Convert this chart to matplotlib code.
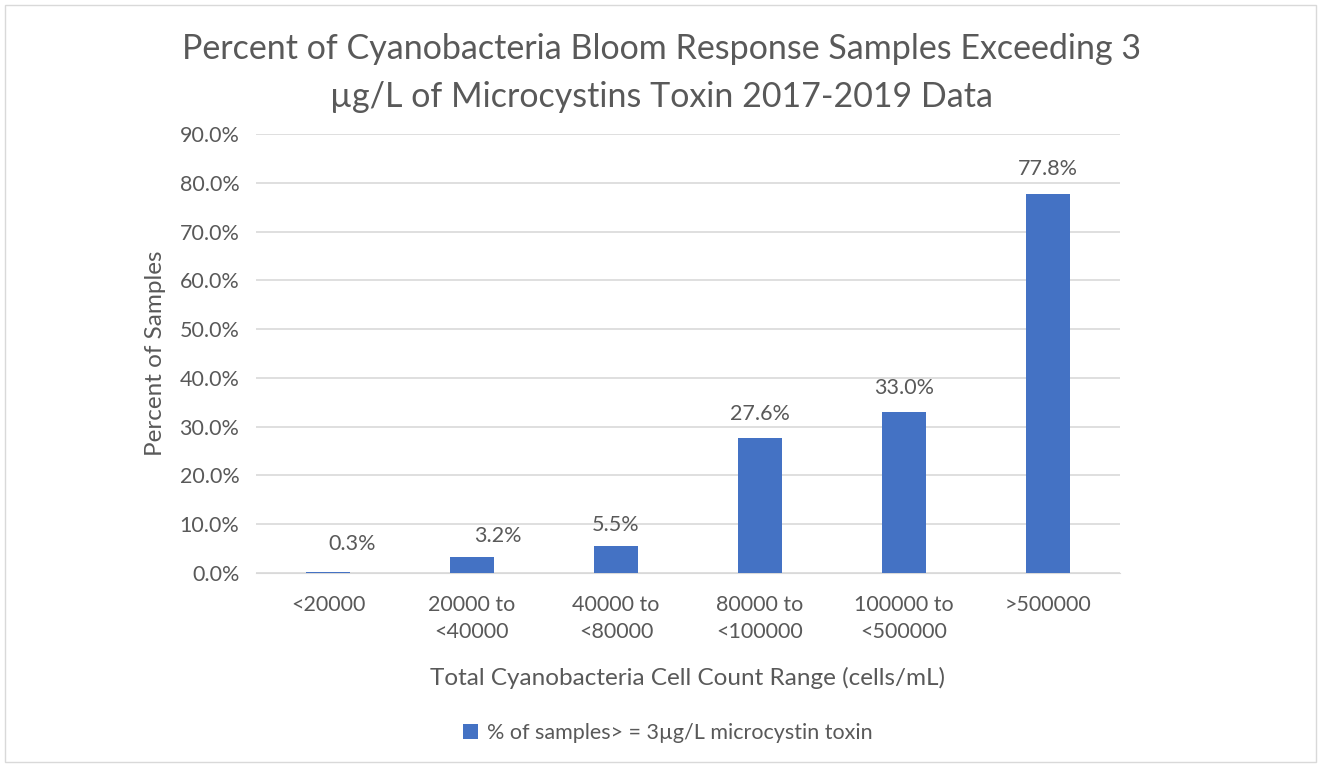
import matplotlib.pyplot as plt
from matplotlib.patches import Rectangle
from matplotlib.ticker import FuncFormatter

categories = ['<20000', '20000 to\n<40000', '40000 to\n<80000', '80000 to\n<100000', '100000 to\n<500000', '>500000']
values = [0.3, 3.2, 5.5, 27.6, 33.0, 77.8]
labels = ['0.3%', '3.2%', '5.5%', '27.6%', '33.0%', '77.8%']

plt.rcParams['font.family'] = ['Lato', 'DejaVu Sans']
grey = '#595959'

fig = plt.figure(figsize=(13.22, 7.77), dpi=100)
ax = fig.add_axes([256/1322, 1-573/777, (1120-256)/1322, (573-134)/777])

x = range(len(categories))
ax.bar(x, values, width=0.31, color='#4472C4', zorder=3,
       label='% of samples> = 3µg/L microcystin toxin')

# small labels were nudged off the bars in the original
offsets = [(0.17, 3.6), (0.18, 2.3), (0, 2.3), (0, 2.9), (0, 2.9), (0, 2.9)]
for i, (v, lab) in enumerate(zip(values, labels)):
    dx, dy = offsets[i]
    ax.text(i + dx, v + dy, lab, ha='center', va='bottom', fontsize=15.5, color=grey)

ax.set_xlim(-0.5, 5.5)
ax.set_ylim(0, 90)
ax.set_yticks(range(0, 91, 10))
ax.yaxis.set_major_formatter(FuncFormatter(lambda v, p: f'{v:.1f}%'))
ax.set_xticks(list(x))
ax.set_xticklabels(categories, linespacing=1.4)
ax.grid(axis='y', color='#d9d9d9', linewidth=1.2, zorder=0)
for s in ['top', 'right', 'left']:
    ax.spines[s].set_visible(False)
ax.spines['bottom'].set_color('#d9d9d9')
ax.tick_params(length=0, labelsize=15.5, colors=grey)
ax.tick_params(axis='x', pad=16)
ax.tick_params(axis='y', pad=12)

ax.set_ylabel('Percent of Samples', fontsize=17.5, color=grey, labelpad=10)
ax.set_xlabel('Total Cyanobacteria Cell Count Range (cells/mL)', fontsize=17.5, color=grey, labelpad=18)

fig.suptitle('Percent of Cyanobacteria Bloom Response Samples Exceeding 3\nµg/L of Microcystins Toxin 2017-2019 Data',
             y=1-33/777, fontsize=24.5, color=grey, va='top', linespacing=1.6)

fig.legend(loc='center', bbox_to_anchor=(668/1322, 1-733/777), frameon=False,
           fontsize=15.5, labelcolor=grey, handlelength=0.7, handleheight=0.7, handletextpad=0.4)

fig.patches.append(Rectangle((5/1322, 15/777), 1311/1322, 757/777, transform=fig.transFigure,
                             fill=False, edgecolor='#d9d9d9', linewidth=1))

fig.savefig('out.png', dpi=100)
